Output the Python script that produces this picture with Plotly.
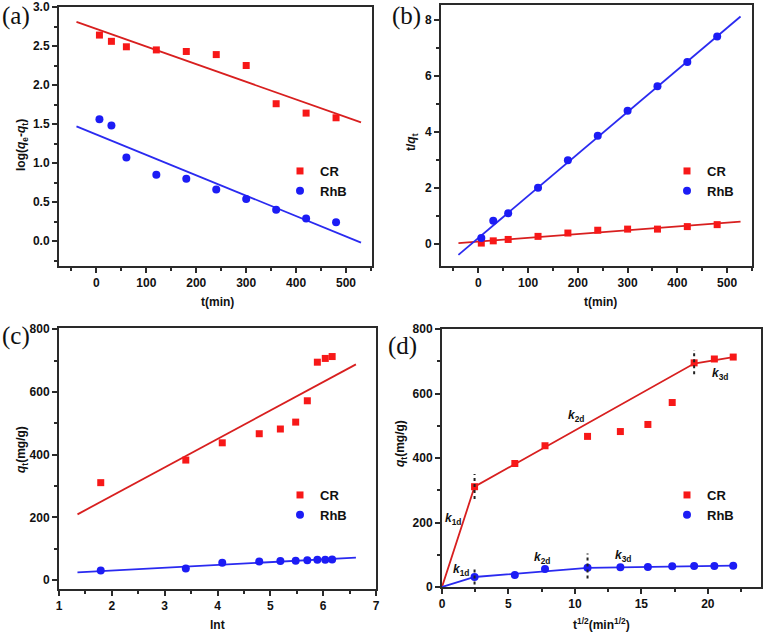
import plotly.graph_objects as go

# ---------------- data ----------------
t_min = [6, 30, 60, 120, 180, 240, 300, 360, 420, 480]
ln_t = [1.79, 3.40, 4.09, 4.79, 5.19, 5.48, 5.70, 5.89, 6.04, 6.17]
sqrt_t = [2.45, 5.48, 7.75, 10.95, 13.42, 15.49, 17.32, 18.97, 20.49, 21.91]

# (a) pseudo-first-order
a_cr = [2.64, 2.56, 2.49, 2.45, 2.43, 2.39, 2.25, 1.76, 1.64, 1.58]
a_rhb = [1.56, 1.48, 1.07, 0.85, 0.80, 0.66, 0.54, 0.40, 0.29, 0.24]
a_fit_x = [-40, 530]
a_fit_cr = [2.81, 1.52]
a_fit_rhb = [1.47, -0.02]

# (b) pseudo-second-order
b_cr = [0.02, 0.10, 0.15, 0.26, 0.38, 0.48, 0.52, 0.52, 0.61, 0.68]
b_rhb = [0.20, 0.82, 1.09, 2.00, 2.98, 3.86, 4.76, 5.63, 6.50, 7.41]
b_fit_x = [-40, 527]
b_fit_cr = [0.02, 0.79]
b_fit_rhb = [-0.40, 8.13]

# (c) Elovich
qt_cr = [311, 383, 438, 467, 482, 504, 572, 695, 707, 713]
qt_rhb = [31, 37, 56, 60, 61, 62, 64, 65, 65, 66]
c_fit_x = [1.35, 6.62]
c_fit_cr = [210, 688]
c_fit_rhb = [25, 72]

# (d) intraparticle diffusion
d_fit_cr_x = [0, 2.45, 18.97, 21.91]
d_fit_cr_y = [0, 311, 693, 713]
d_fit_rhb_x = [0, 2.45, 10.95, 21.91]
d_fit_rhb_y = [0, 31, 59, 66]
d_sep_x = [2.45, 18.97, 2.45, 10.95]
d_sep_lo = [273, 660, 8, 26]
d_sep_hi = [350, 735, 62, 104]
d_lbl_text = ["k", "k", "k", "k", "k", "k"]
d_lbl_sub = ["1d", "2d", "3d", "1d", "2d", "3d"]
d_lbl_x = [0.85, 10.1, 20.9, 1.4, 7.5, 13.65]
d_lbl_y = [210, 530, 660, 52, 90, 96]

# axis titles
x_titles = ["t(min)", "t(min)", "lnt", "t<sup>1/2</sup>(min<sup>1/2</sup>)"]
y_titles = ["log(<i>q</i><sub>e</sub>-<i>q</i><sub>t</sub>)", "t/<i>q</i><sub>t</sub>",
            "<i>q</i><sub>t</sub>(mg/g)", "<i>q</i><sub>t</sub>(mg/g)"]
panel_labels = ["(a)", "(b)", "(c)", "(d)"]

RED_M = "#f71818"
RED_L = "#d81f1f"
BLUE_M = "#1c1cf5"
BLUE_L = "#2a2af0"

W, H = 767, 636

def dom_x(a, b):
    return [a / W, b / W]

def dom_y(top, bot):
    return [1 - bot / H, 1 - top / H]

fig = go.Figure()

def add_panel(n, xs_cr, ys_cr, xs_rhb, ys_rhb, legend_name):
    xa = "x" if n == 1 else f"x{n}"
    ya = "y" if n == 1 else f"y{n}"
    fig.add_trace(go.Scatter(x=xs_cr, y=ys_cr, mode="markers", name="CR",
                             marker=dict(symbol="square", size=7, color=RED_M),
                             xaxis=xa, yaxis=ya, legend=legend_name))
    fig.add_trace(go.Scatter(x=xs_rhb, y=ys_rhb, mode="markers", name="RhB",
                             marker=dict(symbol="circle", size=8, color=BLUE_M),
                             xaxis=xa, yaxis=ya, legend=legend_name))

def add_line(n, xs, ys, color):
    xa = "x" if n == 1 else f"x{n}"
    ya = "y" if n == 1 else f"y{n}"
    fig.add_trace(go.Scatter(x=xs, y=ys, mode="lines", showlegend=False,
                             line=dict(color=color, width=1.8),
                             xaxis=xa, yaxis=ya, hoverinfo="skip"))

add_line(1, a_fit_x, a_fit_cr, RED_L)
add_line(1, a_fit_x, a_fit_rhb, BLUE_L)
add_panel(1, t_min, a_cr, t_min, a_rhb, "legend")
add_line(2, b_fit_x, b_fit_cr, RED_L)
add_line(2, b_fit_x, b_fit_rhb, BLUE_L)
add_panel(2, t_min, b_cr, t_min, b_rhb, "legend2")
add_line(3, c_fit_x, c_fit_cr, RED_L)
add_line(3, c_fit_x, c_fit_rhb, BLUE_L)
add_panel(3, ln_t, qt_cr, ln_t, qt_rhb, "legend3")
add_line(4, d_fit_cr_x, d_fit_cr_y, RED_L)
add_line(4, d_fit_rhb_x, d_fit_rhb_y, BLUE_L)
add_panel(4, sqrt_t, qt_cr, sqrt_t, qt_rhb, "legend4")

sx, sy = [], []
for x, lo, hi in zip(d_sep_x, d_sep_lo, d_sep_hi):
    sx += [x, x, None]
    sy += [lo, hi, None]
fig.add_trace(go.Scatter(x=sx, y=sy, mode="lines", showlegend=False,
                         line=dict(color="#222", width=2, dash="dot"),
                         xaxis="x4", yaxis="y4", hoverinfo="skip"))

FONT = "Liberation Sans, Arial, sans-serif"
tickfont = dict(family=FONT, size=12, color="#111", weight="bold")
titlefont = dict(family=FONT, size=12, color="#111", weight="bold")

def axis(domain, anchor, rng, dtick, minor, fmt=None):
    d = dict(domain=domain, anchor=anchor, range=rng, dtick=dtick,
             tick0=0, showgrid=False, zeroline=False, showline=True,
             automargin=False,
             linecolor="#2a2a2a", linewidth=2, mirror=True,
             ticks="outside", ticklen=5, tickwidth=1.5, tickcolor="#2a2a2a",
             minor=dict(ticks="outside", ticklen=3, tickwidth=1.5,
                        dtick=minor, tickcolor="#2a2a2a", showgrid=False),
             tickfont=tickfont)
    if fmt:
        d["tickformat"] = fmt
    return d

legend_common = dict(bgcolor="rgba(0,0,0,0)", xanchor="left", yanchor="top",
                     font=dict(family=FONT, size=13, color="#111", weight="bold"),
                     tracegroupgap=0, itemwidth=30)

fig.update_layout(
    width=W, height=H,
    margin=dict(l=0, r=0, t=0, b=0, autoexpand=False),
    paper_bgcolor="white", plot_bgcolor="white",
    xaxis=axis(dom_x(59, 372), "y", [-75, 552], 100, 50),
    yaxis=axis(dom_y(7, 266), "x", [-0.32, 3.0], 0.5, 0.25, ".1f"),
    xaxis2=axis(dom_x(441, 752), "y2", [-75, 550], 100, 50),
    yaxis2=axis(dom_y(5, 266), "x2", [-0.8, 8.54], 2, 1),
    xaxis3=axis(dom_x(59, 376), "y3", [1, 7], 1, 0.5),
    yaxis3=axis(dom_y(328, 589), "x3", [-28, 804], 200, 100),
    xaxis4=axis(dom_x(442, 761), "y4", [0, 24], 5, 2.5),
    yaxis4=axis(dom_y(329, 587), "x4", [0, 800], 200, 100),
    legend=dict(x=280 / W, y=1 - 156 / H, **legend_common),
    legend2=dict(x=667 / W, y=1 - 156 / H, **legend_common),
    legend3=dict(x=280 / W, y=1 - 480 / H, **legend_common),
    legend4=dict(x=667 / W, y=1 - 480 / H, **legend_common),
    showlegend=True,
)

# axis titles (positions in figure pixels)
xt_pos = [(217, 302), (600, 302), (217, 625), (601, 624)]
yt_pos = [(22, 145), (412, 142), (22, 450), (401, 444)]
for txt, (px, py) in zip(x_titles, xt_pos):
    fig.add_annotation(text=txt, x=px / W, y=1 - py / H, xref="paper", yref="paper",
                       xanchor="center", yanchor="middle", showarrow=False, font=titlefont)
for txt, (px, py) in zip(y_titles, yt_pos):
    fig.add_annotation(text=txt, x=px / W, y=1 - py / H, xref="paper", yref="paper",
                       xanchor="center", yanchor="middle", showarrow=False,
                       textangle=-90, font=titlefont)

# panel labels
for txt, (px, py) in zip(panel_labels, [(0, 16), (390, 16), (0, 336), (386, 346)]):
    fig.add_annotation(text=txt, x=px / W, y=1 - py / H, xref="paper", yref="paper",
                       xanchor="left", yanchor="middle", showarrow=False,
                       font=dict(family="Liberation Serif, Times New Roman, serif",
                                 size=25, color="#111"))

# k labels in (d)
for t, s, x, y in zip(d_lbl_text, d_lbl_sub, d_lbl_x, d_lbl_y):
    fig.add_annotation(text=f"<i>{t}</i><sub>{s}</sub>", x=x, y=y, xref="x4", yref="y4",
                       showarrow=False,
                       font=dict(family=FONT, size=12, color="#111", weight="bold"))

fig.write_html("out.html",
               config={"displayModeBar": False},
               post_script="document.body.style.margin='0px';document.body.style.overflow='hidden';")
